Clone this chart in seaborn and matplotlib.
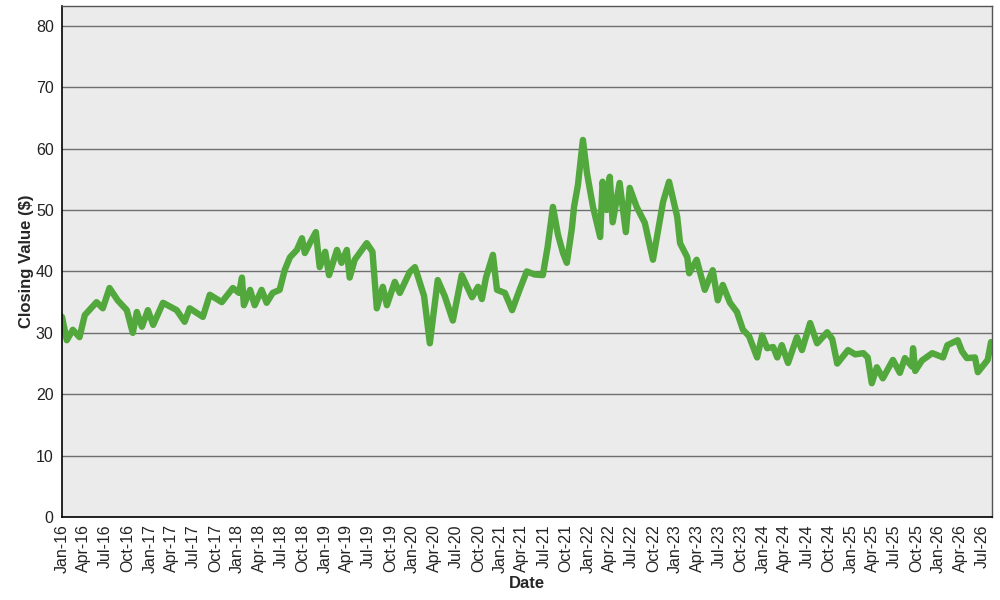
import pandas as pd
import matplotlib
matplotlib.use("Agg")
import matplotlib.pyplot as plt
import matplotlib.dates as mdates
import seaborn as sns

# closing values
dates = [
    "2016-01-01", "2016-01-21", "2016-02-15", "2016-03-14", "2016-04-05", "2016-05-24",
    "2016-06-19", "2016-07-17", "2016-08-20", "2016-09-27", "2016-10-22", "2016-11-08",
    "2016-11-29", "2016-12-24", "2017-01-15", "2017-02-25", "2017-04-23", "2017-05-26",
    "2017-06-16", "2017-08-10", "2017-09-08", "2017-10-28", "2017-12-13", "2018-01-08",
    "2018-01-20", "2018-01-28", "2018-02-23", "2018-03-14", "2018-04-12", "2018-05-03",
    "2018-05-28", "2018-06-26", "2018-07-17", "2018-08-08", "2018-09-06", "2018-09-27",
    "2018-10-09", "2018-10-30", "2018-11-24", "2018-12-10", "2019-01-02", "2019-01-18",
    "2019-02-20", "2019-03-11", "2019-04-02", "2019-04-14", "2019-05-05", "2019-06-24",
    "2019-07-18", "2019-08-05", "2019-08-30", "2019-09-16", "2019-10-19", "2019-11-09",
    "2019-12-20", "2020-01-11", "2020-02-18", "2020-03-13", "2020-04-15", "2020-05-14",
    "2020-06-17", "2020-07-24", "2020-09-05", "2020-09-30", "2020-10-16", "2020-11-02",
    "2020-12-01", "2020-12-18", "2021-01-20", "2021-02-19", "2021-03-22", "2021-04-21",
    "2021-05-24", "2021-06-27", "2021-07-17", "2021-08-08", "2021-08-29", "2021-09-19",
    "2021-10-05", "2021-10-26", "2021-11-04", "2021-11-20", "2021-12-11", "2021-12-28",
    "2022-01-22", "2022-02-21", "2022-03-03", "2022-03-20", "2022-04-02", "2022-04-14",
    "2022-05-13", "2022-06-08", "2022-06-24", "2022-07-23", "2022-08-26", "2022-09-29",
    "2022-11-10", "2022-12-05", "2023-01-08", "2023-01-20", "2023-02-19", "2023-02-27",
    "2023-03-30", "2023-05-03", "2023-06-05", "2023-06-26", "2023-07-17", "2023-08-16",
    "2023-09-14", "2023-10-09", "2023-11-03", "2023-12-07", "2023-12-28", "2024-01-18",
    "2024-02-12", "2024-02-29", "2024-03-19", "2024-04-14", "2024-05-21", "2024-06-11",
    "2024-07-15", "2024-08-13", "2024-09-24", "2024-10-15", "2024-11-05", "2024-12-20",
    "2025-01-19", "2025-02-22", "2025-03-12", "2025-03-29", "2025-04-19", "2025-05-14",
    "2025-06-25", "2025-07-24", "2025-08-14", "2025-09-13", "2025-09-17", "2025-09-26",
    "2025-10-24", "2025-12-06", "2026-01-20", "2026-02-07", "2026-03-22", "2026-04-09",
    "2026-04-29", "2026-06-02", "2026-06-14", "2026-07-13", "2026-07-25", "2026-08-08",
]
closing = [
    32.6, 28.8, 30.5, 29.3, 32.9, 35.0,
    34.0, 37.3, 35.3, 33.7, 30.0, 33.4,
    31.0, 33.7, 31.3, 34.9, 33.7, 31.8,
    34.0, 32.6, 36.2, 35.0, 37.3, 36.5,
    39.0, 34.5, 37.0, 34.5, 37.0, 34.9,
    36.5, 37.0, 40.2, 42.3, 43.5, 45.4,
    43.0, 44.6, 46.4, 40.7, 43.2, 39.4,
    43.5, 41.4, 43.5, 39.0, 41.9, 44.6,
    43.2, 34.0, 37.5, 34.5, 38.3, 36.5,
    39.9, 40.7, 36.0, 28.3, 38.6, 36.0,
    32.0, 39.4, 35.8, 37.5, 35.5, 39.0,
    42.7, 37.0, 36.5, 33.7, 37.0, 40.0,
    39.5, 39.4, 44.0, 50.5, 46.0, 43.0,
    41.4, 47.0, 50.5, 54.0, 61.4, 56.0,
    50.5, 45.6, 54.6, 50.0, 55.4, 48.0,
    54.4, 46.4, 53.6, 50.5, 47.9, 41.9,
    51.3, 54.6, 48.9, 44.6, 42.3, 39.7,
    41.9, 37.0, 40.2, 35.3, 37.8, 34.9,
    33.4, 30.5, 29.5, 26.0, 29.6, 27.5,
    27.7, 26.0, 28.0, 25.1, 29.3, 27.2,
    31.6, 28.3, 30.1, 29.0, 25.0, 27.2,
    26.5, 26.7, 26.0, 21.8, 24.4, 22.6,
    25.6, 23.5, 25.9, 24.5, 27.5, 23.8,
    25.5, 26.7, 26.0, 28.0, 28.8, 27.0,
    25.9, 26.0, 23.6, 25.0, 25.6, 28.5,
]

df = pd.DataFrame({"Date": pd.to_datetime(dates), "Closing": closing})

sns.set_style("whitegrid", {"axes.facecolor": "#EBEBEB", "grid.color": "#6E6E6E"})
plt.rcParams["font.family"] = ["Liberation Sans", "DejaVu Sans"]

fig = plt.figure(figsize=(10, 6), dpi=100)
ax = fig.add_axes([0.062, 0.138, 0.930, 0.852])

sns.lineplot(data=df, x="Date", y="Closing", ax=ax, color="#52A83D", linewidth=4.6)

ax.set_ylim(0, 83.2)
ax.set_yticks(range(0, 81, 10))
ax.set_xlim(pd.Timestamp("2016-01-01"), pd.Timestamp("2026-08-12"))
ax.xaxis.set_major_locator(mdates.MonthLocator(bymonth=[1, 4, 7, 10]))
ax.xaxis.set_major_formatter(mdates.DateFormatter("%b-%y"))
ax.grid(axis="x", visible=False)
ax.grid(axis="y", linewidth=1.0)

ax.tick_params(axis="both", labelsize=11.5, colors="#333333", length=4,
               width=1, labelcolor="#222222", pad=2)
ax.tick_params(axis="x", rotation=90, pad=1)
for lbl in ax.get_xticklabels():
    lbl.set_verticalalignment("top")

for side in ["left", "bottom"]:
    ax.spines[side].set_color("black")
    ax.spines[side].set_linewidth(1.2)
for side in ["top", "right"]:
    ax.spines[side].set_color("#555555")
    ax.spines[side].set_linewidth(1.0)

ax.set_xlabel("Date", fontsize=12, fontweight="bold", labelpad=2)
ax.set_ylabel("Closing Value ($)", fontsize=12, fontweight="bold", labelpad=1)

fig.savefig("out.png", dpi=100)
